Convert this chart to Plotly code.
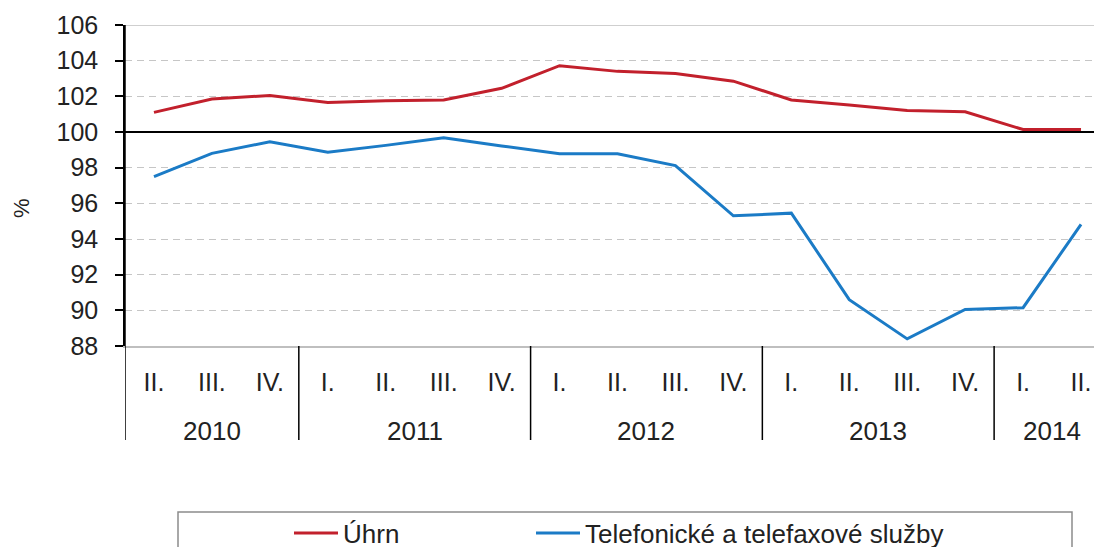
import plotly.graph_objects as go

# ---- data ----
years = ["2010", "2010", "2010",
         "2011", "2011", "2011", "2011",
         "2012", "2012", "2012", "2012",
         "2013", "2013", "2013", "2013",
         "2014", "2014"]
quarters = ["II.", "III.", "IV.",
            "I.", "II.", "III.", "IV.",
            "I.", "II.", "III.", "IV.",
            "I.", "II.", "III.", "IV.",
            "I.", "II."]
year_labels = ["2010", "2011", "2012", "2013", "2014"]
uhrn = [101.1, 101.85, 102.05,
        101.65, 101.75, 101.8, 102.45,
        103.72, 103.4, 103.28, 102.85,
        101.8, 101.52, 101.2, 101.13,
        100.14, 100.14]
telefon = [97.5, 98.8, 99.45,
           98.87, 99.25, 99.68, 99.22,
           98.78, 98.78, 98.12, 95.3,
           95.45, 90.6, 88.4, 90.05,
           90.15, 94.82]

cats = [f"{y} {q}" for y, q in zip(years, quarters)]

RED = "#C2202C"
BLUE = "#1B7BC6"
FONT = "Liberation Sans"
TXT = "#222222"

# page body has an 8px margin; layout worked out in screen pixels
OFF = 8
W, H = 1102, 547
SCR_LEFT, SCR_TOP, SCR_BOTTOM = 125, 25, 346
L = SCR_LEFT - OFF
T = SCR_TOP - OFF
B = H - (SCR_BOTTOM - OFF)
R = 0
pw = W - L - R
ph = H - T - B


def px_x(p):
    return (p - SCR_LEFT) / pw


def px_y(p):
    return (SCR_BOTTOM - p) / ph


fig = go.Figure()
fig.add_trace(go.Scatter(x=cats, y=uhrn, mode="lines", name="Úhrn",
                         line=dict(color=RED, width=3), legend="legend"))
fig.add_trace(go.Scatter(x=cats, y=telefon, mode="lines",
                         name="Telefonické a telefaxové služby",
                         line=dict(color=BLUE, width=3), legend="legend2"))

shapes = []
# top border line at 106
shapes.append(dict(type="line", xref="paper", yref="y", x0=0, x1=1, y0=106, y1=106,
                   line=dict(color="#BFBFBF", width=1.5), layer="below"))
# line at 100
shapes.append(dict(type="line", xref="paper", yref="y", x0=0, x1=1, y0=100, y1=100,
                   line=dict(color="black", width=2)))
# year separators
year_counts = [years.count(yl) for yl in year_labels]
pos = -0.5
seps = [pos]
for c in year_counts[:-1]:
    pos += c
    seps.append(pos)
for i, s in enumerate(seps):
    shapes.append(dict(type="line", xref="x", yref="paper", x0=s, x1=s,
                       y0=(1.0 if i == 0 else 0.0), y1=px_y(440),
                       line=dict(color="black", width=1.5)))
# legend frame
shapes.append(dict(type="rect", xref="paper", yref="paper",
                   x0=px_x(178), x1=px_x(1072), y0=px_y(512), y1=px_y(575),
                   line=dict(color="#8C8C8C", width=1.5)))

annotations = []
start = 0
for yl, c in zip(year_labels, year_counts):
    center = start + (c - 1) / 2
    annotations.append(dict(x=center, y=px_y(431), xref="x", yref="paper",
                            xanchor="center", yanchor="middle",
                            text=yl, showarrow=False,
                            font=dict(family=FONT, size=26, color=TXT)))
    start += c
# y-axis unit label
annotations.append(dict(x=px_x(22), y=px_y(208), xref="paper", yref="paper",
                        xanchor="center", yanchor="middle", textangle=-90,
                        text="%", showarrow=False,
                        font=dict(family=FONT, size=22, color=TXT)))

leg_common = dict(orientation="h", xanchor="left", yanchor="middle",
                  y=px_y(533),
                  font=dict(family=FONT, size=26, color=TXT),
                  itemwidth=44, bgcolor="rgba(0,0,0,0)", borderwidth=0)

fig.update_layout(
    width=W, height=H,
    margin=dict(l=L, r=R, t=T, b=B, pad=0, autoexpand=False),
    plot_bgcolor="white", paper_bgcolor="white",
    font=dict(family=FONT, size=24, color=TXT),
    shapes=shapes, annotations=annotations,
    showlegend=True,
    legend=dict(x=px_x(289), **leg_common),
    legend2=dict(x=px_x(531), **leg_common),
    xaxis=dict(type="category", range=[-0.5, 16.5], automargin=False,
               tickmode="array", tickvals=cats, ticktext=quarters,
               showgrid=False, showline=True, linecolor="#BFBFBF", linewidth=1.5,
               ticks="", ticklabelstandoff=13,
               tickfont=dict(family=FONT, size=25, color=TXT),
               zeroline=False, fixedrange=True),
    yaxis=dict(range=[88, 106], dtick=2, tick0=88, automargin=False,
               showgrid=True, gridcolor="#C6C6C6", gridwidth=1, griddash="7px,5px",
               showline=True, linecolor="black", linewidth=1.5,
               ticks="outside", ticklen=8, tickcolor="black", tickwidth=1.5,
               ticklabelstandoff=12,
               tickfont=dict(family=FONT, size=25, color=TXT),
               zeroline=False, fixedrange=True),
)

fig.write_html("out.html")
